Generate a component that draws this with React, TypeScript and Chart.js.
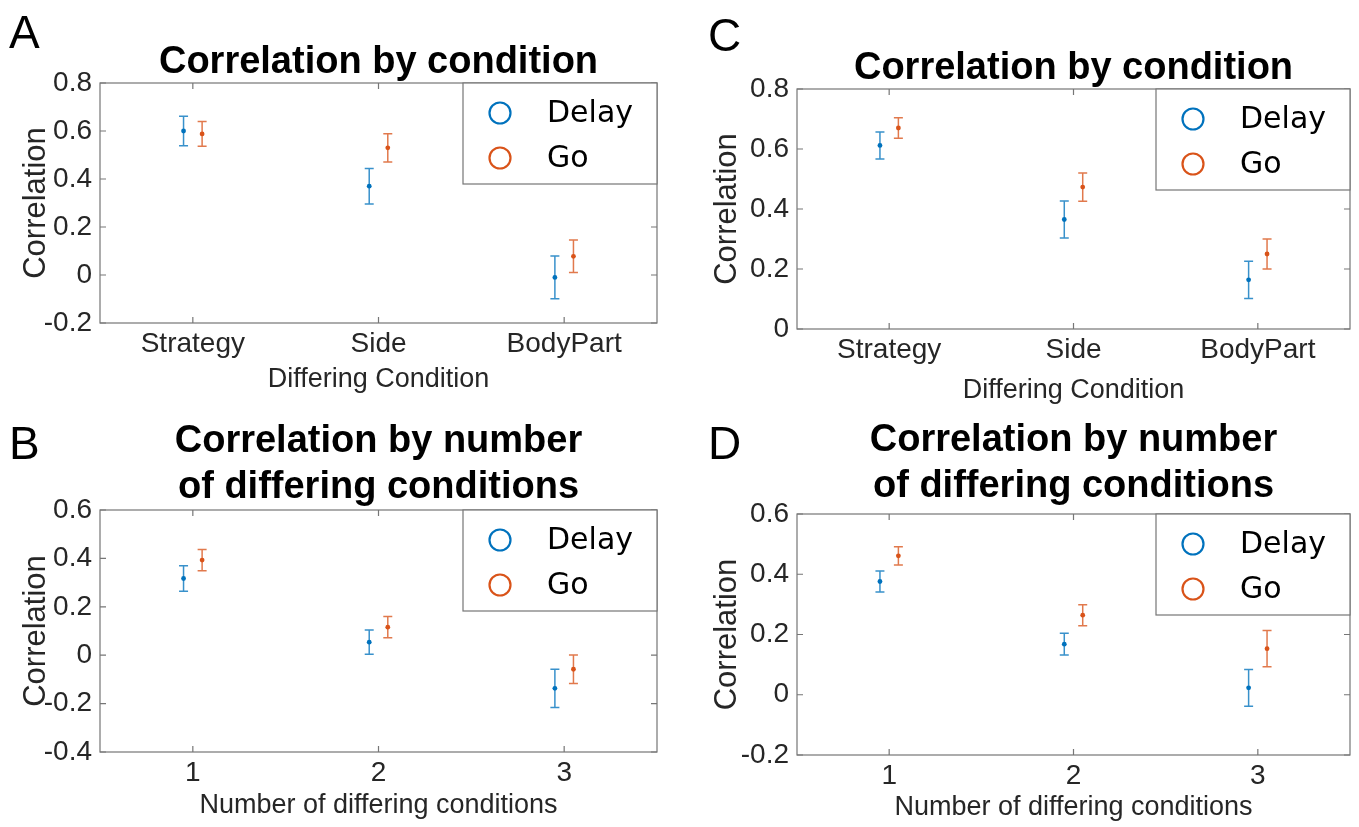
import React, { useEffect, useRef } from "react";
import { Chart, registerables } from "chart.js";

Chart.register(...registerables);

// Category axis labels and their positions on the x scale
const conditionLabels = ["Strategy", "Side", "BodyPart"];
const countLabels = ["1", "2", "3"];
const categoryPositions = [1, 2, 3];
const seriesNames = ["Delay", "Go"];
const seriesOffsets = [-0.05, 0.05];

// Y tick values for each panel
const yTicksA = [-0.2, 0, 0.2, 0.4, 0.6, 0.8];
const yTicksB = [-0.4, -0.2, 0, 0.2, 0.4, 0.6];
const yTicksC = [0, 0.2, 0.4, 0.6, 0.8];
const yTicksD = [-0.2, 0, 0.2, 0.4, 0.6];

// A: correlation by differing condition
const aDelayMean = [0.6, 0.37, -0.01];
const aDelayErr = [0.061, 0.074, 0.089];
const aGoMean = [0.588, 0.53, 0.078];
const aGoErr = [0.052, 0.059, 0.068];

// B: correlation by number of differing conditions
const bDelayMean = [0.317, 0.054, -0.137];
const bDelayErr = [0.053, 0.05, 0.079];
const bGoMean = [0.393, 0.116, -0.058];
const bGoErr = [0.044, 0.044, 0.059];

// C: correlation by differing condition
const cDelayMean = [0.612, 0.365, 0.164];
const cDelayErr = [0.045, 0.062, 0.062];
const cGoMean = [0.67, 0.473, 0.25];
const cGoErr = [0.034, 0.047, 0.05];

// D: correlation by number of differing conditions
const dDelayMean = [0.376, 0.168, 0.023];
const dDelayErr = [0.035, 0.036, 0.061];
const dGoMean = [0.461, 0.264, 0.153];
const dGoErr = [0.03, 0.035, 0.06];

const BLUE = "#0072BD";
const ORANGE = "#D95319";
const seriesColors = [BLUE, ORANGE];
const barColors = ["rgba(0,114,189,0.78)", "rgba(217,83,25,0.78)"];
const AXIS = "#767676";
const TEXT = "#262626";
const SANS = '"Liberation Sans", Arial, Helvetica, sans-serif';

type Panel = {
  letter: string;
  title: string[];
  xTitle: string;
  xLabels: string[];
  yMin: number;
  yMax: number;
  yTicks: number[];
  delayMean: number[];
  delayErr: number[];
  goMean: number[];
  goErr: number[];
  left: number;
  top: number;
  width: number;
  height: number;
  plot: { l: number; t: number; r: number; b: number };
  titleBase: number[];
  xTitleBase: number;
  yTitleX: number;
  letterX: number;
  letterBase: number;
};

const panels: Panel[] = [
  {
    letter: "A",
    title: ["Correlation by condition"],
    xTitle: "Differing Condition",
    xLabels: conditionLabels,
    yMin: -0.2,
    yMax: 0.8,
    yTicks: yTicksA,
    delayMean: aDelayMean,
    delayErr: aDelayErr,
    goMean: aGoMean,
    goErr: aGoErr,
    left: 0,
    top: 0,
    width: 680,
    height: 410,
    plot: { l: 100, t: 83, r: 657, b: 323 },
    titleBase: [73],
    xTitleBase: 387,
    yTitleX: 45,
    letterX: 9,
    letterBase: 48,
  },
  {
    letter: "B",
    title: ["Correlation by number", "of differing conditions"],
    xTitle: "Number of differing conditions",
    xLabels: countLabels,
    yMin: -0.4,
    yMax: 0.6,
    yTicks: yTicksB,
    delayMean: bDelayMean,
    delayErr: bDelayErr,
    goMean: bGoMean,
    goErr: bGoErr,
    left: 0,
    top: 410,
    width: 680,
    height: 417,
    plot: { l: 100, t: 100, r: 657, b: 342 },
    titleBase: [42, 88],
    xTitleBase: 403,
    yTitleX: 45,
    letterX: 9,
    letterBase: 49,
  },
  {
    letter: "C",
    title: ["Correlation by condition"],
    xTitle: "Differing Condition",
    xLabels: conditionLabels,
    yMin: 0,
    yMax: 0.8,
    yTicks: yTicksC,
    delayMean: cDelayMean,
    delayErr: cDelayErr,
    goMean: cGoMean,
    goErr: cGoErr,
    left: 680,
    top: 0,
    width: 679,
    height: 410,
    plot: { l: 117, t: 89, r: 670, b: 329 },
    titleBase: [79],
    xTitleBase: 398,
    yTitleX: 56,
    letterX: 28,
    letterBase: 51,
  },
  {
    letter: "D",
    title: ["Correlation by number", "of differing conditions"],
    xTitle: "Number of differing conditions",
    xLabels: countLabels,
    yMin: -0.2,
    yMax: 0.6,
    yTicks: yTicksD,
    delayMean: dDelayMean,
    delayErr: dDelayErr,
    goMean: dGoMean,
    goErr: dGoErr,
    left: 680,
    top: 410,
    width: 679,
    height: 417,
    plot: { l: 117, t: 104, r: 670, b: 345 },
    titleBase: [41, 87],
    xTitleBase: 405,
    yTitleX: 56,
    letterX: 28,
    letterBase: 49,
  },
];

function fmtTick(v: number): string {
  const r = Math.round(v * 10) / 10;
  return r === 0 ? "0" : String(r);
}

function makeDecor(p: Panel) {
  return {
    id: "decor" + p.letter,
    beforeDatasetsDraw(chart: any) {
      const ctx = chart.ctx;
      const xs = chart.scales.x;
      const ys = chart.scales.y;
      const series: [number[], number[]][] = [
        [p.delayMean, p.delayErr],
        [p.goMean, p.goErr],
      ];
      const cap = 4.5;
      series.forEach(([mean, err], s) => {
        ctx.save();
        ctx.strokeStyle = barColors[s];
        ctx.lineWidth = 1.5;
        mean.forEach((m, i) => {
          const x = xs.getPixelForValue(categoryPositions[i] + seriesOffsets[s]);
          const y1 = ys.getPixelForValue(m + err[i]);
          const y2 = ys.getPixelForValue(m - err[i]);
          ctx.beginPath();
          ctx.moveTo(x, y1);
          ctx.lineTo(x, y2);
          ctx.moveTo(x - cap, y1);
          ctx.lineTo(x + cap, y1);
          ctx.moveTo(x - cap, y2);
          ctx.lineTo(x + cap, y2);
          ctx.stroke();
        });
        ctx.restore();
      });
    },
    afterDraw(chart: any) {
      const ctx = chart.ctx;
      const a = chart.chartArea;
      const xs = chart.scales.x;
      const ys = chart.scales.y;
      ctx.save();

      // axes box with inward ticks on all four sides
      ctx.strokeStyle = AXIS;
      ctx.lineWidth = 1.2;
      ctx.strokeRect(a.left, a.top, a.right - a.left, a.bottom - a.top);
      const tl = 6;
      ctx.beginPath();
      categoryPositions.forEach((v) => {
        const x = xs.getPixelForValue(v);
        ctx.moveTo(x, a.bottom);
        ctx.lineTo(x, a.bottom - tl);
        ctx.moveTo(x, a.top);
        ctx.lineTo(x, a.top + tl);
      });
      p.yTicks.forEach((v) => {
        const y = ys.getPixelForValue(v);
        ctx.moveTo(a.left, y);
        ctx.lineTo(a.left + tl, y);
        ctx.moveTo(a.right, y);
        ctx.lineTo(a.right - tl, y);
      });
      ctx.stroke();

      // legend in the upper right corner of the axes
      const lw = 194;
      const lh = 101;
      const lx = a.right - lw;
      const ly = a.top;
      ctx.fillStyle = "#ffffff";
      ctx.fillRect(lx, ly, lw, lh);
      ctx.strokeRect(lx, ly, lw, lh);
      seriesNames.forEach((name, s) => {
        const cy = ly + 30 + s * 45;
        ctx.beginPath();
        ctx.lineWidth = 2.2;
        ctx.strokeStyle = seriesColors[s];
        ctx.arc(lx + 37, cy, 10.5, 0, Math.PI * 2);
        ctx.stroke();
        ctx.fillStyle = "#000000";
        ctx.font = '30px "DejaVu Sans", Verdana, sans-serif';
        ctx.textAlign = "left";
        ctx.textBaseline = "middle";
        ctx.fillText(name, lx + 84, cy + 1);
      });

      // title
      const cx = (a.left + a.right) / 2;
      ctx.fillStyle = "#000000";
      ctx.font = "bold 38px " + SANS;
      ctx.textAlign = "center";
      ctx.textBaseline = "alphabetic";
      p.title.forEach((line, i) => ctx.fillText(line, cx, p.titleBase[i]));

      // axis titles
      ctx.fillStyle = TEXT;
      ctx.font = "27px " + SANS;
      ctx.fillText(p.xTitle, cx, p.xTitleBase);
      ctx.save();
      ctx.translate(p.yTitleX, (a.top + a.bottom) / 2);
      ctx.rotate(-Math.PI / 2);
      ctx.font = "31px " + SANS;
      ctx.textAlign = "center";
      ctx.fillText("Correlation", 0, 0);
      ctx.restore();

      // panel letter
      ctx.fillStyle = "#000000";
      ctx.font = "46px " + SANS;
      ctx.textAlign = "left";
      ctx.fillText(p.letter, p.letterX, p.letterBase);
      ctx.restore();
    },
  };
}

function PanelChart({ p }: { p: Panel }) {
  const ref = useRef<HTMLCanvasElement | null>(null);
  useEffect(() => {
    if (!ref.current) return;
    const series = [
      { mean: p.delayMean, off: seriesOffsets[0] },
      { mean: p.goMean, off: seriesOffsets[1] },
    ];
    const chart = new Chart(ref.current, {
      type: "scatter",
      data: {
        datasets: series.map((s, k) => ({
          label: seriesNames[k],
          data: s.mean.map((m, i) => ({ x: categoryPositions[i] + s.off, y: m })),
          pointRadius: 2.4,
          pointHoverRadius: 2.4,
          pointBorderWidth: 0,
          backgroundColor: seriesColors[k],
          borderColor: seriesColors[k],
        })),
      },
      options: {
        animation: false,
        responsive: false,
        devicePixelRatio: 1,
        events: [],
        layout: {
          padding: { left: 0, top: p.plot.t, right: p.width - p.plot.r, bottom: 0 },
        },
        plugins: {
          legend: { display: false },
          tooltip: { enabled: false },
          title: { display: false },
        },
        scales: {
          x: {
            type: "linear",
            min: 0.5,
            max: 3.5,
            afterBuildTicks: (axis: any) => {
              axis.ticks = categoryPositions.map((v) => ({ value: v }));
            },
            afterFit: (scale: any) => {
              scale.height = p.height - p.plot.b;
            },
            grid: { display: false, drawTicks: false },
            border: { display: false },
            ticks: {
              autoSkip: false,
              maxRotation: 0,
              padding: 4,
              color: TEXT,
              font: { family: SANS, size: 28 },
              callback: (v: any) => p.xLabels[categoryPositions.indexOf(Number(v))] ?? "",
            },
          },
          y: {
            type: "linear",
            min: p.yMin,
            max: p.yMax,
            afterBuildTicks: (axis: any) => {
              axis.ticks = p.yTicks.map((v) => ({ value: v }));
            },
            afterFit: (scale: any) => {
              scale.width = p.plot.l;
            },
            grid: { display: false, drawTicks: false },
            border: { display: false },
            ticks: {
              padding: 8,
              color: TEXT,
              font: { family: SANS, size: 28 },
              callback: (v: any) => fmtTick(Number(v)),
            },
          },
        },
      },
      plugins: [makeDecor(p)],
    } as any);
    return () => chart.destroy();
  }, [p]);
  return (
    <canvas
      ref={ref}
      width={p.width}
      height={p.height}
      style={{ position: "absolute", left: p.left, top: p.top, width: p.width, height: p.height }}
    />
  );
}

export default function App() {
  return (
    <div
      style={{
        position: "absolute",
        left: 0,
        top: 0,
        width: 1359,
        height: 827,
        background: "#ffffff",
        overflow: "hidden",
      }}
    >
      {panels.map((p) => (
        <PanelChart key={p.letter} p={p} />
      ))}
    </div>
  );
}
